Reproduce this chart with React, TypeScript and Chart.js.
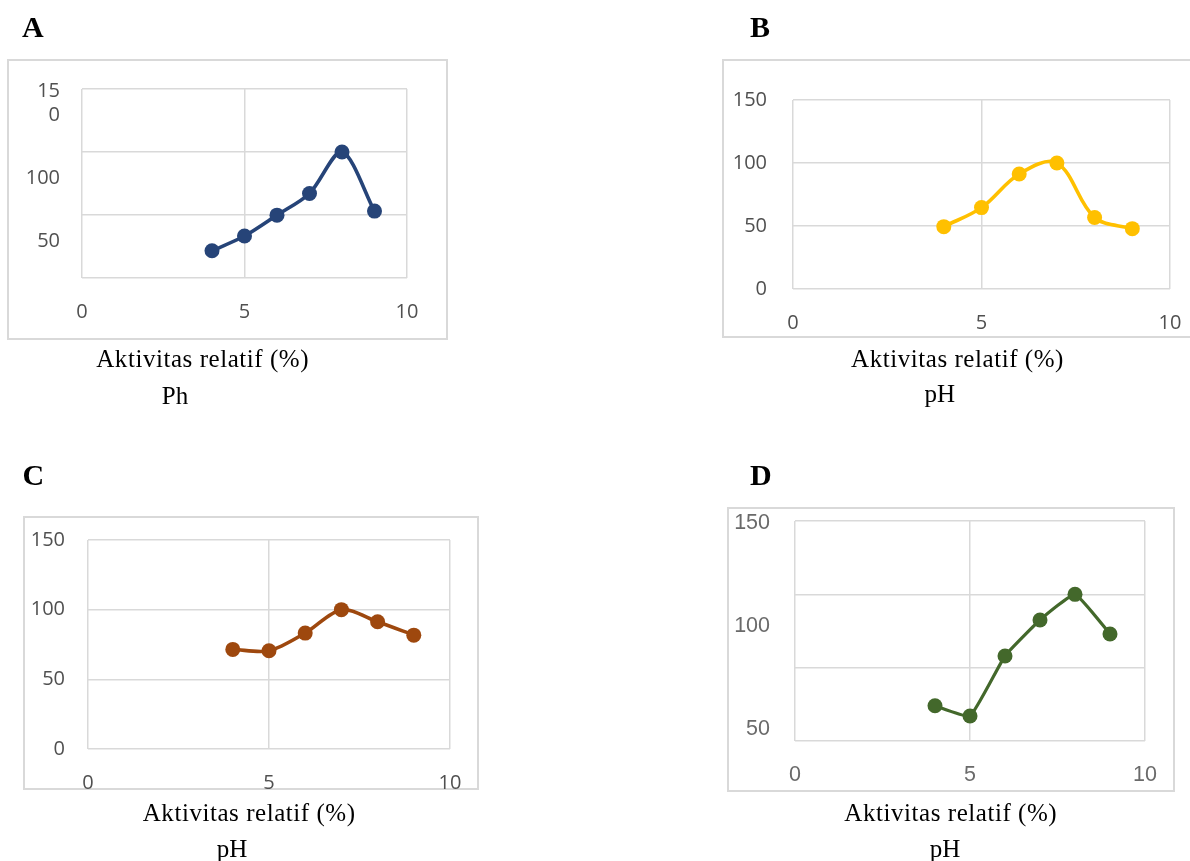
import React, { useEffect, useRef } from 'react';
import { Chart, registerables } from 'chart.js';

Chart.register(...registerables);

// ---------- data ----------
const phLevels = [4, 5, 6, 7, 8, 9];
const activityA = [21.6, 33.3, 49.9, 67.1, 100, 53.1];
const activityB = [49.5, 64.6, 91.3, 100, 56.7, 47.9];
const activityC = [71.5, 70.5, 83.2, 100, 91.3, 81.7];
const activityD = [24, 17, 58, 82.5, 100, 73];

const xTickValues = [0, 5, 10];
const yTickValues = [0, 50, 100, 150];
const yTickLabelsA: (string | string[])[] = ['', '50', '100', ['15', '0']];
const yTickLabelsStd: (string | string[])[] = ['0', '50', '100', '150'];
const yLabelTickValuesD = [50, 100, 150];
const yLabelTicksD = ['50', '100', '150'];

const panelLetters = ['A', 'B', 'C', 'D'];
const xCaption = 'Aktivitas relatif (%)';
const phCaptions = ['Ph', 'pH', 'pH', 'pH'];

// ---------- layout / style ----------
const GRID = '#d9d9d9';
const GRID_W = 1.5;
const M = 40;
const SANS = "'Open Sans', 'Noto Sans', sans-serif";
const ARIAL = "'Liberation Sans', Arial, sans-serif";
const SERIF = "'Liberation Serif', 'Times New Roman', serif";

type Panel = {
  values: number[];
  color: string;
  lineW: number;
  tension: number;
  box: { x: number; y: number; w: number; h: number };
  plot: { l: number; t: number; r: number; b: number };
  tickFamily: string;
  tickSize: number;
  tickColor: string;
  xPad: number;
  yPad: number;
  labelOffset: number;
  yLabels: (string | string[])[];
  separateLabels?: { min: number; max: number };
  letter: { x: number; base: number };
  cap1: { cx: number; base: number };
  cap2: { cx: number; base: number };
};

const panels: Panel[] = [
  {
    values: activityA, color: '#264478', lineW: 3.6, tension: 0.3,
    box: { x: 7, y: 59, w: 441, h: 281 },
    plot: { l: 82, t: 89, r: 407, b: 278 },
    tickFamily: SANS, tickSize: 20, tickColor: '#505050',
    xPad: 22, yPad: 22, labelOffset: 26, yLabels: yTickLabelsA,
    letter: { x: 22, base: 37 },
    cap1: { cx: 202.7, base: 366.7 }, cap2: { cx: 175, base: 404 },
  },
  {
    values: activityB, color: '#FFC000', lineW: 3.6, tension: 0.35,
    box: { x: 722, y: 59, w: 472, h: 279 },
    plot: { l: 793, t: 100, r: 1170, b: 289 },
    tickFamily: SANS, tickSize: 20, tickColor: '#505050',
    xPad: 22, yPad: 26, labelOffset: 0, yLabels: yTickLabelsStd,
    letter: { x: 750, base: 37 },
    cap1: { cx: 957.5, base: 367 }, cap2: { cx: 939.7, base: 402 },
  },
  {
    values: activityC, color: '#9E480E', lineW: 3.6, tension: 0.3,
    box: { x: 23, y: 516, w: 456, h: 274 },
    plot: { l: 88, t: 540, r: 450, b: 749 },
    tickFamily: SANS, tickSize: 20, tickColor: '#505050',
    xPad: 22, yPad: 23, labelOffset: 0, yLabels: yTickLabelsStd,
    letter: { x: 22.5, base: 485 },
    cap1: { cx: 249.2, base: 821 }, cap2: { cx: 232, base: 857 },
  },
  {
    values: activityD, color: '#43682B', lineW: 3.2, tension: 0.12,
    box: { x: 727, y: 507, w: 448, h: 285 },
    plot: { l: 795, t: 521, r: 1145, b: 741 },
    tickFamily: ARIAL, tickSize: 21.5, tickColor: '#6a6a6a',
    xPad: 21.5, yPad: 25, labelOffset: 0, yLabels: yTickLabelsStd,
    separateLabels: { min: 44.33, max: 150.82 },
    letter: { x: 750, base: 485 },
    cap1: { cx: 950.8, base: 820.7 }, cap2: { cx: 945, base: 857 },
  },
];

function ChartPanel({ p }: { p: Panel }) {
  const ref = useRef<HTMLCanvasElement | null>(null);
  const cw = p.box.w + 2 * M;
  const ch = p.box.h + 2 * M;
  const ox = p.box.x - M;
  const oy = p.box.y - M;

  useEffect(() => {
    if (!ref.current) return;
    const yWidth = p.plot.l - ox;
    const xHeight = oy + ch - p.plot.b;
    const padTop = p.plot.t - oy;
    const padRight = ox + cw - p.plot.r;
    const tickFont = { family: p.tickFamily, size: p.tickSize };
    const gridOpts = { color: GRID, lineWidth: GRID_W, drawTicks: false };

    const scales: any = {
      x: {
        type: 'linear',
        min: 0,
        max: 10,
        afterBuildTicks: (s: any) => {
          s.ticks = xTickValues.map((v) => ({ value: v }));
        },
        grid: gridOpts,
        border: { display: false },
        ticks: {
          font: tickFont,
          color: p.tickColor,
          padding: p.xPad,
          maxRotation: 0,
          autoSkip: false,
        },
        afterFit: (s: any) => {
          s.height = xHeight;
        },
      },
      y: {
        type: 'linear',
        position: 'left',
        min: 0,
        max: 150,
        afterBuildTicks: (s: any) => {
          s.ticks = yTickValues.map((v) => ({ value: v }));
        },
        grid: gridOpts,
        border: { display: false },
        ticks: p.separateLabels
          ? { display: false }
          : {
              font: tickFont,
              color: p.tickColor,
              padding: p.yPad,
              labelOffset: p.labelOffset,
              autoSkip: false,
              callback: (v: number) => {
                const l = p.yLabels[yTickValues.indexOf(v)];
                if (l === undefined) return '';
                return Array.isArray(l) ? [...l, ''] : l;
              },
            },
        afterFit: (s: any) => {
          s.width = p.separateLabels ? 0 : yWidth;
        },
      },
    };

    if (p.separateLabels) {
      scales.yl = {
        type: 'linear',
        position: 'left',
        min: p.separateLabels.min,
        max: p.separateLabels.max,
        afterBuildTicks: (s: any) => {
          s.ticks = yLabelTickValuesD.map((v) => ({ value: v }));
        },
        grid: { display: false, drawTicks: false },
        border: { display: false },
        ticks: {
          font: tickFont,
          color: p.tickColor,
          padding: p.yPad,
          autoSkip: false,
          callback: (v: number) => yLabelTicksD[yLabelTickValuesD.indexOf(v)] ?? '',
        },
        afterFit: (s: any) => {
          s.width = yWidth;
        },
      };
    }

    const chart = new Chart(ref.current, {
      type: 'line',
      data: {
        datasets: [
          {
            data: phLevels.map((x, i) => ({ x, y: p.values[i] })),
            borderColor: p.color,
            backgroundColor: p.color,
            pointBackgroundColor: p.color,
            pointBorderColor: p.color,
            pointRadius: 7.5,
            pointBorderWidth: 0,
            borderWidth: p.lineW,
            tension: p.tension,
            fill: false,
          },
        ],
      },
      options: {
        animation: false,
        responsive: false,
        devicePixelRatio: 1,
        layout: { padding: { top: padTop, right: padRight, left: 0, bottom: 0 } },
        plugins: { legend: { display: false }, tooltip: { enabled: false } },
        events: [],
        scales,
      } as any,
    });
    return () => chart.destroy();
  }, []);

  return (
    <>
      <div
        style={{
          position: 'absolute',
          left: p.box.x,
          top: p.box.y,
          width: p.box.w,
          height: p.box.h,
          boxSizing: 'border-box',
          border: `2px solid ${GRID}`,
          background: '#fff',
        }}
      />
      <canvas
        ref={ref}
        width={cw}
        height={ch}
        style={{ position: 'absolute', left: ox, top: oy, width: cw, height: ch }}
      />
    </>
  );
}

function TextAt({
  text, cx, left, base, size, bold, spacing,
}: {
  text: string; cx?: number; left?: number; base: number; size: number; bold?: boolean; spacing?: number;
}) {
  const top = base - 0.8375 * size;
  return (
    <div
      style={{
        position: 'absolute',
        left: cx !== undefined ? cx : left,
        top,
        transform: cx !== undefined ? 'translateX(-50%)' : undefined,
        fontFamily: SERIF,
        fontSize: size,
        fontWeight: bold ? 700 : 400,
        lineHeight: 1,
        whiteSpace: 'nowrap',
        letterSpacing: spacing ? `${spacing}px` : undefined,
        color: '#000',
      }}
    >
      {text}
    </div>
  );
}

export default function App() {
  useEffect(() => {
    document.body.style.margin = '0';
  }, []);
  return (
    <div
      style={{
        position: 'absolute',
        left: 0,
        top: 0,
        width: 1190,
        height: 861,
        overflow: 'hidden',
        background: '#fff',
      }}
    >
      {panels.map((p, i) => (
        <React.Fragment key={i}>
          <ChartPanel p={p} />
          <TextAt text={panelLetters[i]} left={p.letter.x} base={p.letter.base} size={30} bold />
          <TextAt text={xCaption} cx={p.cap1.cx} base={p.cap1.base} size={25} spacing={0.55} />
          <TextAt text={phCaptions[i]} cx={p.cap2.cx} base={p.cap2.base} size={25} />
        </React.Fragment>
      ))}
    </div>
  );
}
